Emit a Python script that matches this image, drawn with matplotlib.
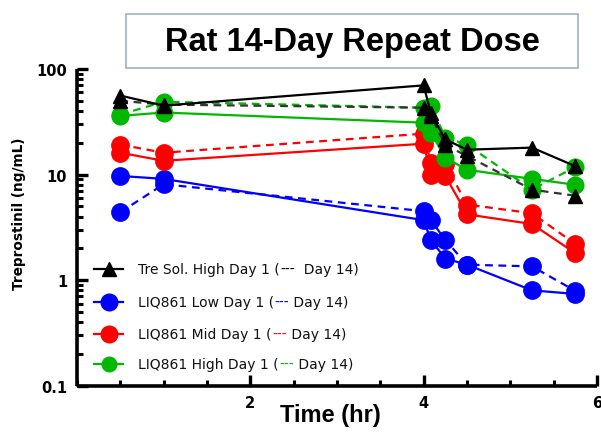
import matplotlib
matplotlib.use("Agg")
import matplotlib.pyplot as plt
from matplotlib.patches import Rectangle
from matplotlib.lines import Line2D
from matplotlib.offsetbox import TextArea, HPacker, DrawingArea, AnchoredOffsetbox
from matplotlib.ticker import FixedLocator, NullFormatter, MultipleLocator

# ---------------- data ----------------
time_hr = [0.5, 1.0, 4.0, 4.083, 4.25, 4.5, 5.25, 5.75]

tre_day1 = [56, 45, 70, 38, 21.5, 17.2, 18, 12]
tre_day14 = [50, 46, 43, 36, 19, 15, 7.2, 6.3]

low_day1 = [9.7, 9.1, 3.7, 2.4, 1.6, 1.4, 0.80, 0.74]
low_day14 = [4.4, 8.1, 4.5, 3.7, 2.4, 1.4, 1.35, 0.79]

mid_day1 = [16.1, 13.5, 19.6, 10.0, 9.7, 4.2, 3.4, 1.8]
mid_day14 = [19.2, 16.1, 24.4, 12.9, 12.5, 5.2, 4.3, 2.2]

high_day1 = [36, 38.7, 31, 25, 14.4, 11.1, 9.1, 8.0]
high_day14 = [37, 49, 43, 45, 22.4, 19.2, 7.2, 11.8]

series_names = ["Tre Sol. High Day 1 (", "LIQ861 Low Day 1 (",
                "LIQ861 Mid Day 1 (", "LIQ861 High Day 1 ("]
legend_suffix = ["  Day 14)", " Day 14)", " Day 14)", " Day 14)"]
y_tick_vals = [0.1, 1, 10, 100]
y_tick_labels = ["0.1", "1", "10", "100"]
x_tick_vals = [2, 4, 6]
x_tick_labels = ["2", "4", "6"]
title_text = "Rat 14-Day Repeat Dose"
x_label = "Time (hr)"
y_label = "Treprostinil (ng/mL)"

# ---------------- figure ----------------
W, H = 601, 435
fig = plt.figure(figsize=(W / 100, H / 100), dpi=100)
fig.patch.set_facecolor("white")

ax_l, ax_r, ax_t, ax_b = 77, 597, 70, 386.7
ax = fig.add_axes([ax_l / W, 1 - ax_b / H, (ax_r - ax_l) / W, (ax_b - ax_t) / H])
ax.set_yscale("log")
ax.set_ylim(0.1, 100)
ax.set_xlim(0, 6)

BLACK = "#000000"
BLUE = "#0000ff"
RED = "#ff0000"
GREEN = "#00b800"

groups = [
    (low_day1, low_day14, BLUE, "o", 12.5, BLUE),
    (mid_day1, mid_day14, RED, "o", 12.5, RED),
    (high_day1, high_day14, GREEN, "o", 12, GREEN),
    (tre_day1, tre_day14, BLACK, "^", 10.5, "#333333"),
]
z = 3
for d1, d14, col, mk, ms, dcol in groups:
    ax.plot(time_hr, d14, ls=(0, (3.5, 2.5)), color=dcol, lw=1.6, marker=mk, ms=ms,
            mfc=col, mec=col, clip_on=False, zorder=z)
    ax.plot(time_hr, d1, ls="-", color=col, lw=1.6, marker=mk, ms=ms,
            mfc=col, mec=col, clip_on=False, zorder=z + 1)
    z += 2

# spines
for s in ["top", "right"]:
    ax.spines[s].set_visible(False)
for s in ["left", "bottom"]:
    ax.spines[s].set_linewidth(2.6)
    ax.spines[s].set_capstyle("butt")

ax.yaxis.set_major_locator(FixedLocator(y_tick_vals))
ax.set_yticklabels(y_tick_labels)
ax.yaxis.set_minor_locator(FixedLocator(
    [m * 10.0 ** e for e in (-1, 0, 1) for m in range(2, 10)]))
ax.yaxis.set_minor_formatter(NullFormatter())

ax.xaxis.set_major_locator(FixedLocator(x_tick_vals))
ax.set_xticklabels(x_tick_labels)
ax.xaxis.set_minor_locator(MultipleLocator(0.5))

ax.tick_params(axis="both", which="major", direction="in", length=8, width=2.4,
               labelsize=10.5, pad=5)
ax.tick_params(axis="both", which="minor", direction="in", length=4.5, width=2.2)
ax.tick_params(axis="y", which="major", pad=7)
ax.tick_params(axis="x", which="major", pad=7)
for lab in ax.get_xticklabels() + ax.get_yticklabels():
    lab.set_fontweight("bold")
    lab.set_family("DejaVu Sans")

ax.set_xlabel(x_label, fontsize=17, fontweight="bold", family="Liberation Sans")
ax.xaxis.set_label_coords(0.488, -0.056)
ax.set_ylabel(y_label, fontsize=9.8, fontweight="bold", family="DejaVu Sans")
ax.yaxis.set_label_coords(-0.098, 0.546)

# ---------------- title box ----------------
fig.add_artist(Rectangle((126 / W, 1 - 69 / H), (578 - 126) / W, (69 - 15) / H,
                         transform=fig.transFigure, fill=False, ec="#9db2c6",
                         lw=1.2, zorder=5))
fig.text(352 / W, 1 - 43 / H, title_text, ha="center", va="center",
         fontsize=23.5, fontweight="bold", family="Liberation Sans", zorder=6)

# ---------------- legend ----------------
leg_specs = [
    (BLACK, "^", 9.5, "#000000"),
    (BLUE, "o", 12, BLUE),
    (RED, "o", 12, RED),
    (GREEN, "o", 10.5, GREEN),
]
rows_y = [270, 303, 335, 365]
fs = 10
tp = dict(fontsize=fs, family="DejaVu Sans", color="#111111")
for i, ((col, mk, ms, dcol), yy) in enumerate(zip(leg_specs, rows_y)):
    da = DrawingArea(21, 14, 0, 0)
    da.add_artist(Line2D([0, 21], [7, 7], color=col, lw=1.6))
    da.add_artist(Line2D([10.5], [7], marker=mk, ms=ms, color=col, mfc=col, mec=col))
    t1 = TextArea(series_names[i], textprops=tp)
    t2 = TextArea("---", textprops=dict(fontsize=fs, family="DejaVu Sans", color=dcol))
    t3 = TextArea(legend_suffix[i], textprops=tp)
    txt = HPacker(children=[t1, t2, t3], align="center", pad=0, sep=0)
    row = HPacker(children=[da, txt], align="center", pad=0, sep=11)
    ab = AnchoredOffsetbox(loc="center left", child=row, pad=0, borderpad=0,
                           frameon=False, bbox_to_anchor=(94 / W, 1 - yy / H),
                           bbox_transform=fig.transFigure)
    fig.add_artist(ab)

fig.savefig("out.png", dpi=100, facecolor="white")
